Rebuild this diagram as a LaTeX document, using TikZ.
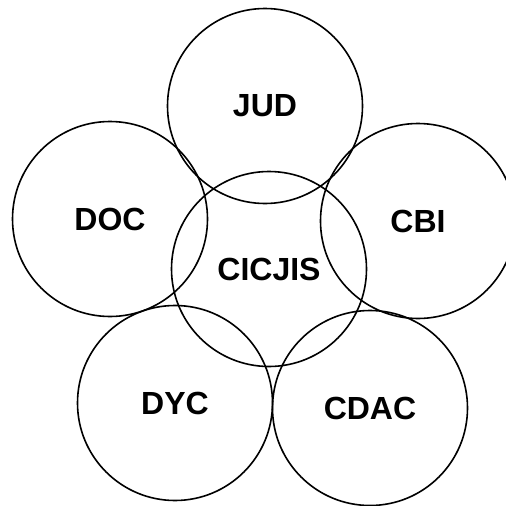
\documentclass[tikz,border=0pt]{standalone}
\usepackage{fontspec}
\setmainfont{Liberation Sans}
\tikzset{ring/.style={circle,draw,line width=1.6pt,minimum size=195pt,inner sep=0pt,font=\fontsize{32}{36}\selectfont\bfseries}}
\begin{document}
\begin{tikzpicture}[x=1pt,y=-1pt]

\useasboundingbox (0,0) rectangle (506,506);

\node[ring] (jud) at (265,106){JUD};

\node[ring] (doc) at (110,219){DOC};

\node[ring] (cbi) at (418,221){CBI};

\node[ring] (cicjis) at (269,269){CICJIS};

\node[ring] (dyc) at (175,403){DYC};

\node[ring] (cdac) at (370,408){CDAC};

\end{tikzpicture}
\end{document}
